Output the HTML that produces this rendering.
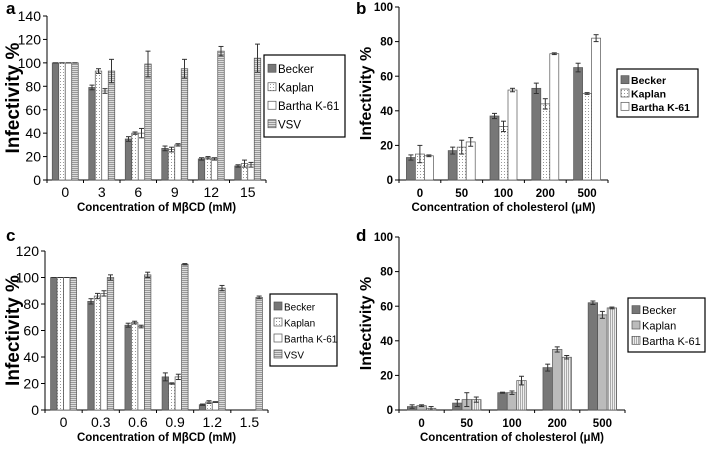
<!DOCTYPE html>
<html><head><meta charset="utf-8"><style>
body{margin:0;background:#fff;width:709px;height:449px;overflow:hidden}
svg{font-family:"Liberation Sans",Arial,sans-serif}
</style></head><body>
<svg id="s" width="709" height="449" xmlns="http://www.w3.org/2000/svg">
<defs>
<pattern id="dots" width="3" height="3" patternUnits="userSpaceOnUse"><rect width="3" height="3" fill="#fff"/><rect width="1" height="1" fill="#999"/></pattern>
<pattern id="hlines" width="4" height="2" patternUnits="userSpaceOnUse"><rect width="4" height="2" fill="#ddd"/><rect width="4" height="1" fill="#999"/></pattern>
<pattern id="vlines" width="2" height="4" patternUnits="userSpaceOnUse"><rect width="2" height="4" fill="#eee"/><rect width="1" height="4" fill="#aaa"/></pattern>
</defs>
</svg>
<script>
const catsA=["0","3","6","9","12","15"];
const beckerA=[100,79,35,27,18,12];
const kaplanA=[100,93,40,26,19,14];
const barthaA=[100,76,40,30,18,13];
const vsvA=[100,93,99,95,110,104];
const errA=[[0,2,2,2,1,1],[0,2,1,2,1,3],[0,2,4,1,1,2],[0,10,11,8,4,12]];
const ticksA=[0,20,40,60,80,100,120,140];

const catsB=["0","50","100","200","500"];
const beckerB=[13,17,37,53,65];
const kaplanB=[15,19,31,44,50];
const barthaB=[14,22,52,73,82];
const errB=[[1.5,2,1.5,3,2.5],[5,4,3,3,0.5],[0.5,2.5,1,0.5,2]];
const ticksB=[0,20,40,60,80,100];

const catsC=["0","0.3","0.6","0.9","1.2","1.5"];
const beckerC=[100,82,64,25,4,0];
const kaplanC=[100,86,66,20,6,0];
const barthaC=[100,88,63,25,6,0];
const vsvC=[100,100,102,110,92,85];
const errC=[[0,2,1.5,3,0.5,0],[0,2,1,0.5,1,0],[0,2,1,2,0.3,0],[0,2,2,0.5,2,1]];
const ticksC=[0,20,40,60,80,100,120];

const catsD=["0","50","100","200","500"];
const beckerD=[2,4,10,24.5,62];
const kaplanD=[2.5,6,10,35,55];
const barthaD=[1,6,17,30.5,59];
const errD=[[1,2,0.3,2,1],[0.5,4,1,1.5,2],[1,1.5,2.5,1,0.5]];
const ticksD=[0,20,40,60,80,100];

const svg=document.getElementById('s');
const NS="http://www.w3.org/2000/svg";
function mk(tag,attrs,parent){const e=document.createElementNS(NS,tag);for(const k in attrs)e.setAttribute(k,attrs[k]);(parent||svg).appendChild(e);return e;}

function panel(p){
  const g=mk('g',{});
  
  
  const yMax=p.ticks[p.ticks.length-1];
  const yS=v=>p.y0-(v/yMax)*(p.y0-p.y1);
  const n=p.cats.length, step=(p.xe-p.x0)/n;
  const xC=i=>p.x0+step*(i+0.5);
  const ya=mk('line',{x1:p.x0,y1:p.y1,x2:p.x0,y2:p.y0,stroke:'#000','stroke-width':1},g);
  
  const xa=mk('line',{x1:p.x0,y1:p.y0,x2:p.xe,y2:p.y0,stroke:'#000','stroke-width':1},g);
  
  p.ticks.forEach(t=>{
    mk('line',{x1:p.x0-4,x2:p.x0,y1:yS(t),y2:yS(t),stroke:'#000'},g);
    const tl=mk('text',{x:p.x0-6,y:yS(t)+p.tf*0.36,'text-anchor':'end','font-size':p.tf,'font-weight':p.bold?'bold':'normal',fill:'#000'},g);
    tl.textContent=t;
    
  });
  for(let i=0;i<=n;i++) mk('line',{x1:p.x0+step*i,x2:p.x0+step*i,y1:p.y0,y2:p.y0+3,stroke:'#000'},g);
  p.cats.forEach((c,i)=>{
    const tl=mk('text',{x:xC(i),y:p.y0+17,'text-anchor':'middle','font-size':p.tf,'font-weight':p.bold?'bold':'normal'},g);
    tl.textContent=c;
    
  });
  const ns=p.series.length;
  p.series.forEach((s,si)=>{
    s.vals.forEach((v,i)=>{
      const x=xC(i)-ns*p.bw/2+si*p.bw;
      if(v>0){
        const r=mk('rect',{x:x,y:yS(v),width:p.bw,height:p.y0-yS(v),fill:s.fill,stroke:'#555','stroke-width':0.7},g);
        
        
      }
      const e=p.err[si][i];
      if(v>0||e>0){
        const cx=x+p.bw/2,hi=yS(v+e),lo=yS(Math.max(0,v-e));
        mk('line',{x1:cx,x2:cx,y1:hi,y2:lo,stroke:'#333'},g);
        mk('line',{x1:cx-2.5,x2:cx+2.5,y1:hi,y2:hi,stroke:'#333'},g);
        mk('line',{x1:cx-2.5,x2:cx+2.5,y1:lo,y2:lo,stroke:'#333'},g);
      }
    });
  });
  const lt=mk('text',{x:p.lx,y:p.ly,'font-size':17,'font-weight':'bold'},g);lt.textContent=p.id;
  
  const cy=(p.y0+p.y1)/2;
  const yt=mk('text',{x:p.ytx,y:cy,'text-anchor':'middle','font-size':p.ytf,'font-weight':'bold',transform:`rotate(-90 ${p.ytx} ${cy})`},g);
  yt.textContent='Infectivity %';
  const xt=mk('text',{x:(p.x0+p.xe)/2,y:p.y0+31,'text-anchor':'middle','font-size':11.5,'font-weight':'bold'},g);
  xt.textContent=p.xt;
  const L=p.leg;
  const lb=mk('rect',{x:L.x,y:L.y,width:L.w,height:L.h,fill:'#fff',stroke:'#000','stroke-width':1.2},g);
  
  const rowh=(L.h-8)/ns;
  p.series.forEach((s,si)=>{
    const ry=L.y+4+rowh*(si+0.5);
    mk('rect',{x:L.x+4,y:ry-4,width:8,height:8,fill:s.fill,stroke:'#555','stroke-width':0.7},g);
    const t=mk('text',{x:L.x+14,y:ry+4.5,'font-size':L.f,'font-weight':L.b?'bold':'normal',textLength:L.tl?undefined:null},g);
    t.removeAttribute('textLength');
    t.textContent=s.name;
    
  });
}
panel({id:'a',cats:catsA,ticks:ticksA,x0:47,xe:266,y0:180,y1:16,bw:6.5,tf:14,bold:false,ytf:19,ytx:19,lx:6,ly:14,
  xt:'Concentration of MβCD (mM)',err:errA,
  series:[{name:'Becker',vals:beckerA,fill:'#777'},{name:'Kaplan',vals:kaplanA,fill:'url(#dots)'},{name:'Bartha K-61',vals:barthaA,fill:'#fff'},{name:'VSV',vals:vsvA,fill:'url(#hlines)'}],
  leg:{x:264,y:55,w:81,h:82,f:11.5,b:false}});
panel({id:'b',cats:catsB,ticks:ticksB,x0:399,xe:608,y0:180,y1:7,bw:9,tf:11.5,bold:true,ytf:16,ytx:371,lx:356,ly:14,
  xt:'Concentration of cholesterol (μM)',err:errB,
  series:[{name:'Becker',vals:beckerB,fill:'#777'},{name:'Kaplan',vals:kaplanB,fill:'url(#dots)'},{name:'Bartha K-61',vals:barthaB,fill:'#fff'}],
  leg:{x:617,y:69,w:81,h:48,f:10.5,b:true}});
panel({id:'c',cats:catsC,ticks:ticksC,x0:45,xe:268,y0:410,y1:251,bw:6.5,tf:14,bold:false,ytf:19,ytx:19,lx:6,ly:241,
  xt:'Concentration of MβCD (mM)',err:errC,
  series:[{name:'Becker',vals:beckerC,fill:'#777'},{name:'Kaplan',vals:kaplanC,fill:'url(#dots)'},{name:'Bartha K-61',vals:barthaC,fill:'#fff'},{name:'VSV',vals:vsvC,fill:'url(#hlines)'}],
  leg:{x:270,y:294,w:67,h:72,f:10,b:false}});
panel({id:'d',cats:catsD,ticks:ticksD,x0:399,xe:625,y0:410,y1:237,bw:9.5,tf:11.5,bold:true,ytf:16,ytx:371,lx:356,ly:241,
  xt:'Concentration of cholesterol (μM)',err:errD,
  series:[{name:'Becker',vals:beckerD,fill:'#777'},{name:'Kaplan',vals:kaplanD,fill:'#bbb'},{name:'Bartha K-61',vals:barthaD,fill:'url(#vlines)'}],
  leg:{x:628,y:298,w:77,h:54,f:11,b:false}});
</script>
</body></html>
